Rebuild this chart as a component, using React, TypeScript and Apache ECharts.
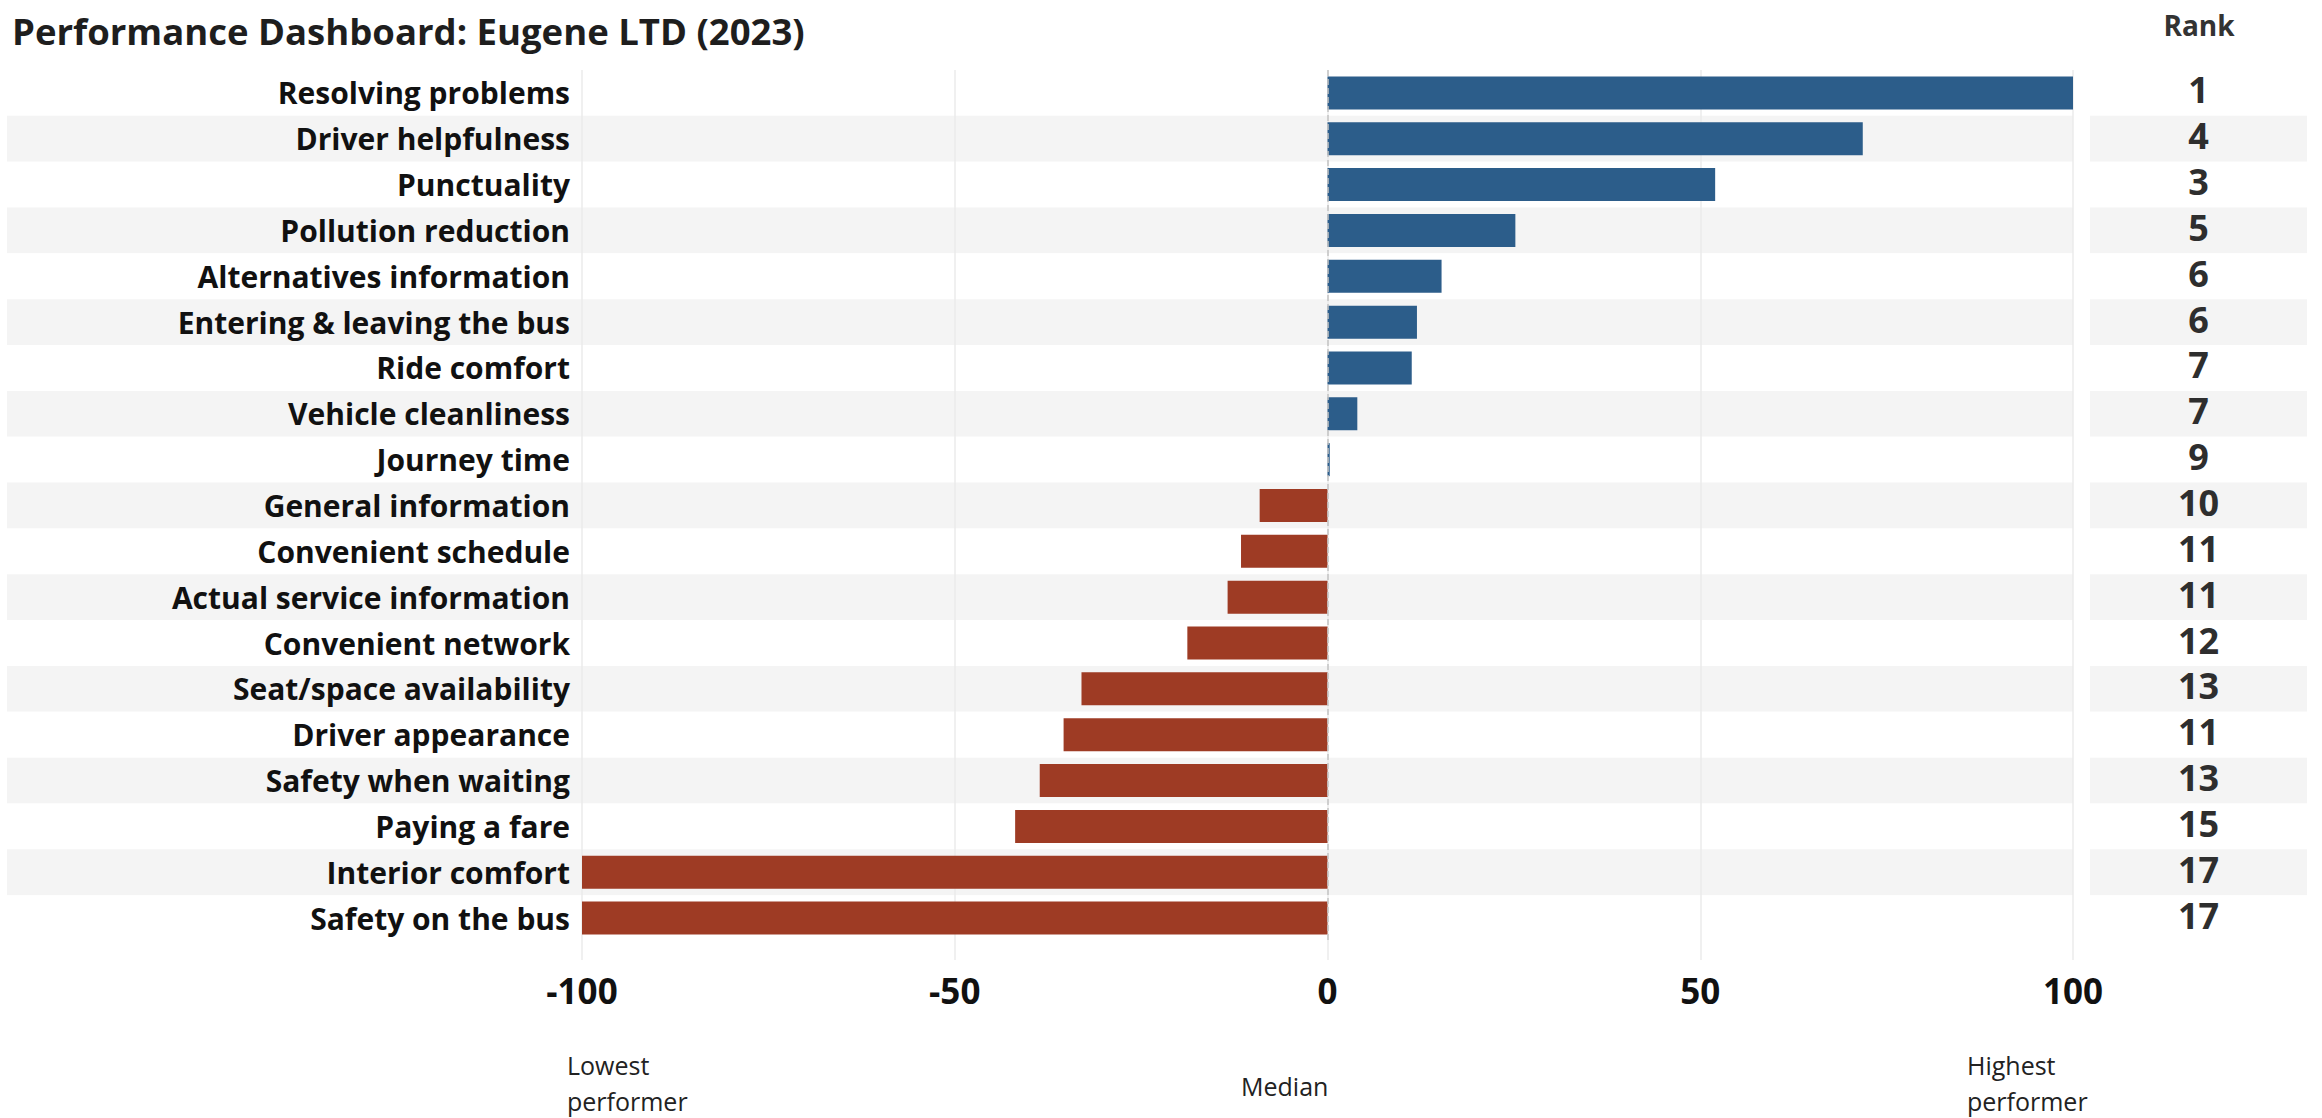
import React, { useEffect, useRef } from "react";
import * as echarts from "echarts";

// Service attributes, top to bottom
const categories = [
  "Resolving problems",
  "Driver helpfulness",
  "Punctuality",
  "Pollution reduction",
  "Alternatives information",
  "Entering & leaving the bus",
  "Ride comfort",
  "Vehicle cleanliness",
  "Journey time",
  "General information",
  "Convenient schedule",
  "Actual service information",
  "Convenient network",
  "Seat/space availability",
  "Driver appearance",
  "Safety when waiting",
  "Paying a fare",
  "Interior comfort",
  "Safety on the bus",
];

// Score relative to the median operator (-100 lowest, +100 highest)
const scores = [
  100, 71.8, 52, 25.2, 15.3, 12, 11.3, 4, 0.3, -9.1, -11.6, -13.4, -18.8, -33,
  -35.4, -38.6, -41.9, -100, -100,
];

// Rank among operators for each attribute
const ranks = [1, 4, 3, 5, 6, 6, 7, 7, 9, 10, 11, 11, 12, 13, 11, 13, 15, 17, 17];

const xTicks = [-100, -50, 0, 50, 100];

const BLUE = "#2C5D8A";
const RED = "#9E3B24";
const BAND = "#F4F4F4";
const FONT = "'Open Sans', sans-serif";

export default function App() {
  const ref = useRef<HTMLDivElement>(null);

  useEffect(() => {
    if (!ref.current) return;
    const chart = echarts.init(ref.current, undefined, { renderer: "svg" });

    const top = 70;
    const height = 871;

    const option: any = {
      animation: false,
      backgroundColor: "#ffffff",
      textStyle: { fontFamily: FONT },
      grid: [
        // row bands behind the labels and bars
        { left: 7, right: 249, top, height },
        // bar chart
        { left: 582, right: 249, top, height },
        // rank column
        { left: 2090, right: 15, top, height },
      ],
      xAxis: [
        { gridIndex: 0, type: "value", min: 0, max: 1, show: false },
        {
          gridIndex: 1,
          type: "value",
          min: xTicks[0],
          max: xTicks[xTicks.length - 1],
          interval: 50,
          axisLine: { show: false },
          axisTick: {
            show: true,
            length: 19,
            lineStyle: { color: "#ebebeb", width: 1.5 },
          },
          splitLine: { show: true, lineStyle: { color: "#ebebeb", width: 1.5 } },
          axisLabel: {
            margin: 32,
            fontSize: 35,
            fontWeight: "bold",
            color: "#111111",
            fontFamily: FONT,
          },
        },
        { gridIndex: 2, type: "value", min: 0, max: 1, show: false },
      ],
      yAxis: [
        {
          gridIndex: 0,
          type: "category",
          data: categories,
          inverse: true,
          axisLine: { show: false },
          axisTick: { show: false },
          axisLabel: { show: false },
          splitLine: { show: false },
          splitArea: { show: true, areaStyle: { color: ["#ffffff", BAND] } },
        },
        {
          gridIndex: 1,
          type: "category",
          data: categories,
          inverse: true,
          axisLine: { show: false },
          axisTick: { show: false },
          splitLine: { show: false },
          axisLabel: {
            margin: 12,
            fontSize: 30,
            fontWeight: "bold",
            color: "#111111",
            fontFamily: FONT,
          },
        },
        {
          gridIndex: 2,
          type: "category",
          data: categories,
          inverse: true,
          axisLine: { show: false },
          axisTick: { show: false },
          axisLabel: { show: false },
          splitLine: { show: false },
          splitArea: { show: true, areaStyle: { color: ["#ffffff", BAND] } },
        },
      ],
      series: [
        {
          type: "bar",
          xAxisIndex: 1,
          yAxisIndex: 1,
          barWidth: 33,
          data: scores.map((v) => ({
            value: v,
            itemStyle: { color: v >= 0 ? BLUE : RED },
          })),
          markLine: {
            silent: true,
            symbol: "none",
            label: { show: false },
            lineStyle: { type: "dashed", color: "#c4c4c4", width: 1.5 },
            data: [{ xAxis: 0 }],
          },
        },
        {
          type: "scatter",
          xAxisIndex: 2,
          yAxisIndex: 2,
          symbolSize: 1,
          itemStyle: { color: "rgba(0,0,0,0)", opacity: 1 },
          data: ranks.map((r, i) => [0.5, i, r]),
          label: {
            show: true,
            position: "inside",
            offset: [0, -3],
            formatter: (p: any) => String(p.value[2]),
            fontSize: 36,
            lineHeight: 40,
            fontWeight: "bold",
            color: "#2e2e2e",
            textBorderWidth: 0,
            fontFamily: FONT,
          },
        },
      ],
      graphic: [
        {
          type: "text",
          x: 12,
          y: 31,
          style: {
            text: "Performance Dashboard: Eugene LTD (2023)",
            fontSize: 36.5,
            fontWeight: "bold",
            fill: "#1e1e1e",
            fontFamily: FONT,
            textVerticalAlign: "middle",
          },
        },
        {
          type: "text",
          x: 2199,
          y: 25,
          style: {
            text: "Rank",
            fontSize: 28,
            fontWeight: "bold",
            fill: "#333333",
            fontFamily: FONT,
            textAlign: "center",
            textVerticalAlign: "middle",
          },
        },
        {
          type: "text",
          x: 567,
          y: 1083,
          style: {
            text: "Lowest\nperformer",
            fontSize: 25,
            lineHeight: 36,
            fill: "#222222",
            fontFamily: FONT,
            textVerticalAlign: "middle",
          },
        },
        {
          type: "text",
          x: 1241,
          y: 1086,
          style: {
            text: "Median",
            fontSize: 25,
            fill: "#222222",
            fontFamily: FONT,
            textVerticalAlign: "middle",
          },
        },
        {
          type: "text",
          x: 1967,
          y: 1083,
          style: {
            text: "Highest\nperformer",
            fontSize: 25,
            lineHeight: 36,
            fill: "#222222",
            fontFamily: FONT,
            textVerticalAlign: "middle",
          },
        },
      ],
    };

    chart.setOption(option);
    return () => chart.dispose();
  }, []);

  return (
    <div
      ref={ref}
      style={{ position: "fixed", left: 0, top: 0, width: 2322, height: 1118 }}
    />
  );
}
